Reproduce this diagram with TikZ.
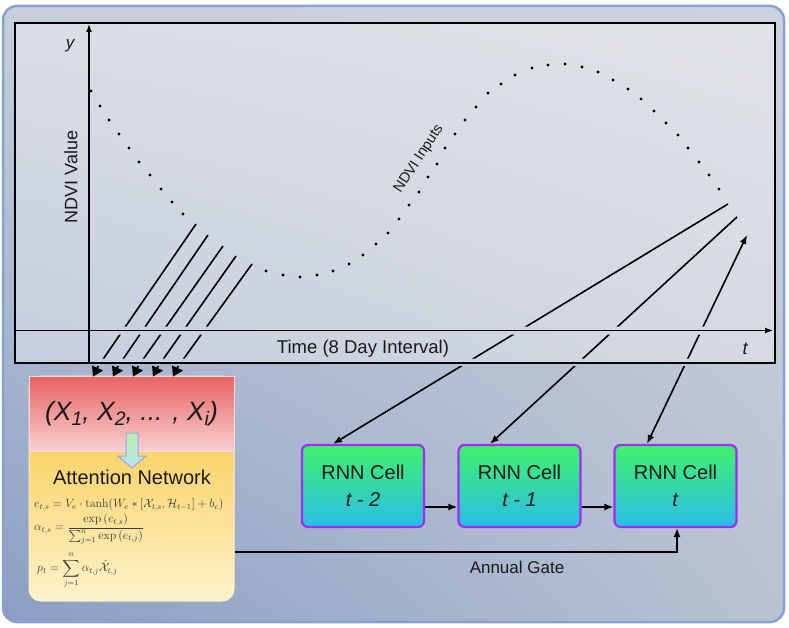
\documentclass[tikz,border=0pt]{standalone}
\usepackage{amsmath}
\usepackage[no-math]{fontspec}
\setmainfont{Liberation Sans}
\usetikzlibrary{arrows.meta,calc,shadings}
\definecolor{panUL}{HTML}{C8CFDB}
\definecolor{panUR}{HTML}{CDD3DE}
\definecolor{panLL}{HTML}{8A9EC4}
\definecolor{panLR}{HTML}{B8C2D2}
\definecolor{panBorder}{HTML}{86A2D4}
\definecolor{plUL}{HTML}{DADDE4}
\definecolor{plUR}{HTML}{E0E2E7}
\definecolor{plLL}{HTML}{C4CEDD}
\definecolor{plLR}{HTML}{D5D9E1}
\definecolor{redTop}{HTML}{E86363}
\definecolor{redBot}{HTML}{F7D0D0}
\definecolor{yelTop}{HTML}{F8C439}
\definecolor{yelBot}{HTML}{FEF3CC}
\definecolor{cellTop}{HTML}{40F26A}
\definecolor{cellBot}{HTML}{28BDEB}
\definecolor{cellBorder}{HTML}{A12CF2}
\definecolor{arTop}{HTML}{B8F0A8}
\definecolor{arBot}{HTML}{B8E4F4}
\definecolor{arBorder}{HTML}{A89AF0}
\definecolor{ink}{HTML}{1A1A1A}
\newcommand\sbx[1]{\raisebox{-5pt}{\fontsize{19.5}{19.5}\selectfont #1}}
\begin{document}
\begin{tikzpicture}[x=1pt,y=-1pt,
  conn/.style={line width=1.6pt, draw=black},
  tip/.style={-{Latex[length=9pt,width=7pt]}},
  bitip/.style={{Latex[length=9pt,width=7pt]}-{Latex[length=9pt,width=7pt]}},
  cell/.style={draw=cellBorder, line width=2.2pt, rounded corners=6pt, top color=cellTop, bottom color=cellBot, minimum width=122pt, minimum height=82pt, align=center, inner sep=0pt, text=ink, font=\fontsize{20}{27}\selectfont},
  lbl/.style={text=ink, inner sep=0pt},
  form/.style={anchor=west, inner sep=0pt, text=ink!85, font=\fontsize{11.5}{13}\selectfont}]
\useasboundingbox (0,0) rectangle (789,628);
% panel
\shade[rounded corners=14pt, upper left=panUL, upper right=panUR, lower left=panLL, lower right=panLR] (3,6) rectangle (784,622);
\draw[panBorder, line width=2.5pt, rounded corners=14pt] (3,6) rectangle (784,622);
% plot background
\shade[upper left=plUL, upper right=plUR, lower left=plLL, lower right=plLR] (15,23) rectangle (775,363);
% dotted NDVI curve
\foreach \px/\py in {91/91,100/106,109/120,119/134,129/148,139/162,150/175,161/189,172/202,183/214,
  266/271,283/275,300/277,317/275,333/271,349/264,363/255,376/244,388/233,399/219,409/205,419/192,428/177,437/164,445/148,455/134,465/120,476/107,488/93,501/84,515/75,532/68,548/65,565/64,582/67,598/72,613/80,628/89,641/99,654/111,666/123,678/135,688/148,699/162,709/175,719/189}
  \fill (\px,\py) circle (1.7);
% attention box
\node[draw=white!70!yelTop, line width=1pt, rounded corners=12pt, top color=yelTop, bottom color=yelBot, minimum width=205pt, minimum height=225pt, inner sep=0pt] (att) at (131.5,488.5) {};
\node[draw=white!75!redTop, line width=1pt, top color=redTop, bottom color=redBot, minimum width=205pt, minimum height=75pt, inner sep=0pt, text=ink, font=\fontsize{26.5}{30}\selectfont\itshape] (inp) at (131.5,413.5) {\raisebox{6pt}{(X\sbx{1}, X\sbx{2}, ... , X\sbx{i})}};
\draw[top color=arTop, bottom color=arBot, draw=arBorder, line width=1pt] (126,433) -- (138,433) -- (138,456) -- (146,456) -- (132,468) -- (118,456) -- (126,456) -- cycle;
\node[lbl, font=\fontsize{20}{24}\selectfont] (attl) at (132,477) {Attention Network};
\node[form] (f1) at (34,505) {$e_{t,s} = V_e\cdot\tanh(W_e * [\mathcal{X}_{t,s},\mathcal{H}_{t-1}] + b_e)$};
\node[form] (f2) at (34,529) {$\alpha_{t,s} = \dfrac{\exp{(e_{t,s})}}{\sum_{j=1}^{n}\exp{(e_{t,j})}}$};
\node[form] (f3) at (37,570) {$\displaystyle p_t = \sum_{j=1}^{n}\alpha_{t,j}\hat{\mathcal{X}}_{t,j}$};
% RNN cells
\node[cell] (c2) at (363,486) {RNN Cell\\\textit{t - 2}};
\node[cell] (c1) at (519.5,486) {RNN Cell\\\textit{t - 1}};
\node[cell] (c0) at (675.5,486) {RNN Cell\\\textit{t}};
\draw[conn,tip] (c2.east |- 0,507) -- (c1.west |- 0,507);
\draw[conn,tip] (c1.east |- 0,507) -- (c0.west |- 0,507);
\draw[conn,tip] (att.east |- 0,552) -| (677,0 |- c0.south);
\node[lbl, font=\fontsize{17}{20}\selectfont] (gate) at (517,567) {Annual Gate};
% connectors from the curve
\coordinate (p1) at (196,224); \coordinate (q1) at (97,368);
\coordinate (p2) at (208,235); \coordinate (q2) at (117,368);
\coordinate (p3) at (223,246); \coordinate (q3) at (137,368);
\coordinate (p4) at (236,256); \coordinate (q4) at (157,368);
\coordinate (p5) at (252,264); \coordinate (q5) at (177,368);
\coordinate (r1) at (728,204);
\coordinate (r2) at (737,217);
\coordinate (r3) at (747,235);
\begin{scope}[even odd rule]
\clip (0,0) rectangle (789,628) (0,326.5) rectangle (789,334.5) (0,358.5) rectangle (789,366);
\foreach \i in {1,...,5} \draw[conn] (p\i) -- (q\i);
\draw[conn,tip] (r1) -- (333,0 |- c2.north);
\draw[conn,tip] (r2) -- (490,0 |- c1.north);
\draw[conn,bitip] (r3) -- (647,0 |- c0.north);
\end{scope}
\foreach \i in {1,...,5} \fill ($(q\i)+(-5,-2.5)$) -- ($(q\i)+(6,2.5)$) -- ($(q\i)+(-4,8.5)$) -- cycle;
% axes and frame
\draw[line width=1.5pt, -{Latex[length=8pt,width=6pt]}] (15,330.5) -- (773,330.5);
\draw[line width=1.5pt, -{Latex[length=8pt,width=6pt]}] (89,363) -- (89,24);
\draw[line width=2pt] (15,23) rectangle (775,363);
% labels
\node[lbl, font=\fontsize{17}{20}\selectfont\itshape] (ylab) at (70,46) {y};
\node[lbl, font=\fontsize{18}{20}\selectfont, rotate=90] (yname) at (71,177) {NDVI Value};
\node[lbl, font=\fontsize{18.5}{20}\selectfont] (xname) at (363,349) {Time (8 Day Interval)};
\node[lbl, font=\fontsize{18}{20}\selectfont\itshape] (tlab) at (745,349) {t};
\node[lbl, font=\fontsize{14.5}{16}\selectfont, rotate=57] (curvelab) at (419,159) {NDVI Inputs};
\end{tikzpicture}
\end{document}
